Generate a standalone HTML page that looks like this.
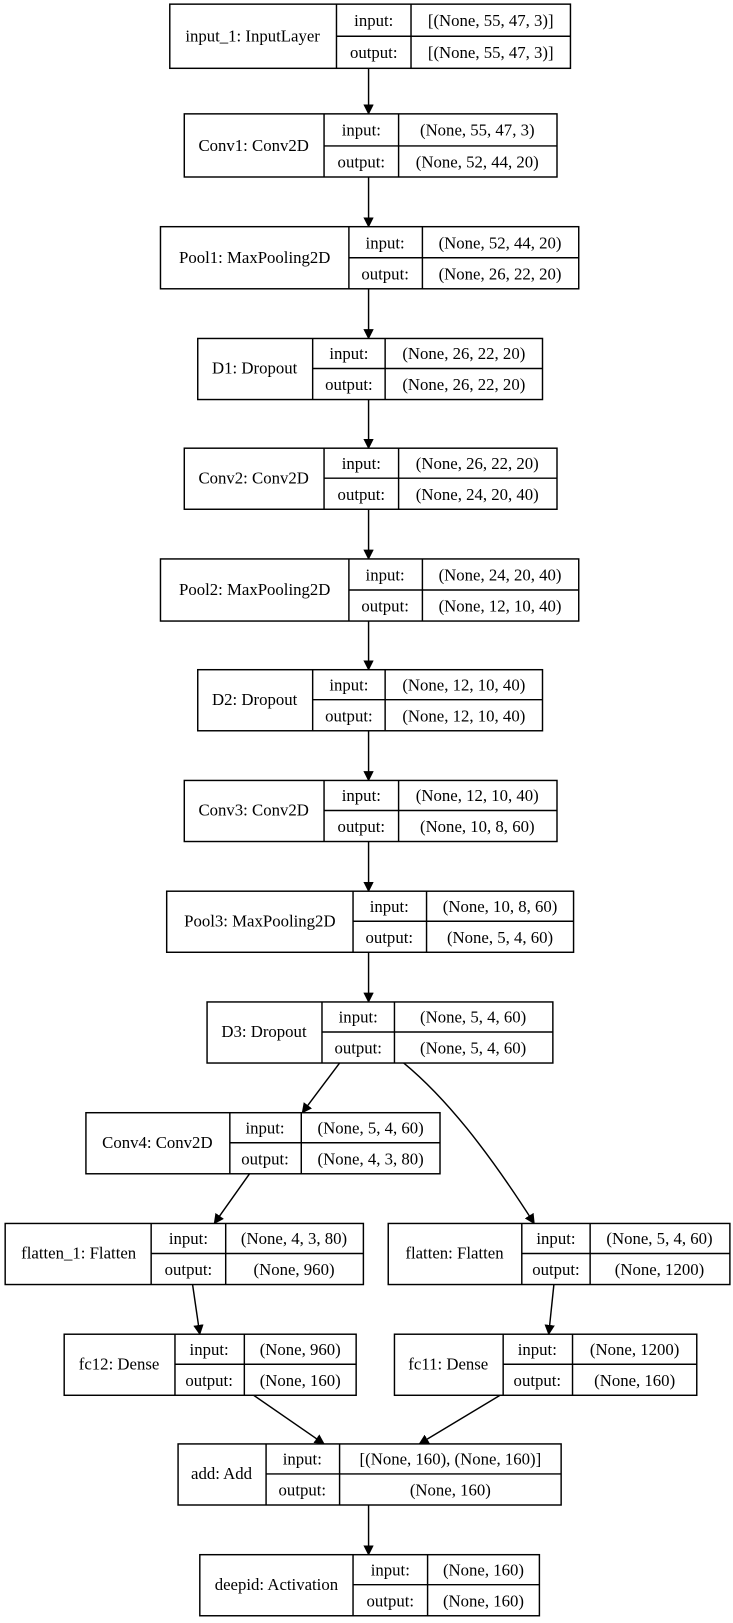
<!DOCTYPE html>
<html><head><style>
html,body{margin:0;padding:0;background:#fff;}
svg{display:block;}
text{font-family:"Liberation Serif",serif;font-size:16.2px;fill:#000;}
</style></head><body>
<svg width="733" height="1623" viewBox="0 0 708 1568" preserveAspectRatio="none" xmlns="http://www.w3.org/2000/svg">
<defs><marker id="a" markerWidth="10" markerHeight="10" refX="9" refY="5" orient="auto" markerUnits="userSpaceOnUse"><path d="M0,0 L10,5 L0,10 z" fill="#000"/></marker></defs>
<g fill="none" stroke="#000" stroke-width="1.4">
<line x1="356" y1="66" x2="356" y2="110" marker-end="url(#a)"/>
<line x1="356" y1="171" x2="356" y2="219" marker-end="url(#a)"/>
<line x1="356" y1="279" x2="356" y2="327" marker-end="url(#a)"/>
<line x1="356" y1="386" x2="356" y2="433" marker-end="url(#a)"/>
<line x1="356" y1="492" x2="356" y2="540" marker-end="url(#a)"/>
<line x1="356" y1="600" x2="356" y2="647" marker-end="url(#a)"/>
<line x1="356" y1="706" x2="356" y2="754" marker-end="url(#a)"/>
<line x1="356" y1="813" x2="356" y2="861" marker-end="url(#a)"/>
<line x1="356" y1="920" x2="356" y2="968" marker-end="url(#a)"/>
<line x1="328" y1="1027" x2="292" y2="1075" marker-end="url(#a)"/>
<path d="M390,1027 C430,1060 470,1110 516,1182" marker-end="url(#a)"/>
<line x1="241" y1="1134" x2="207" y2="1182" marker-end="url(#a)"/>
<line x1="186" y1="1241" x2="193" y2="1289" marker-end="url(#a)"/>
<line x1="535" y1="1241" x2="530" y2="1289" marker-end="url(#a)"/>
<line x1="245" y1="1348" x2="313" y2="1395" marker-end="url(#a)"/>
<line x1="483" y1="1348" x2="405" y2="1395" marker-end="url(#a)"/>
<line x1="356" y1="1454" x2="356" y2="1502" marker-end="url(#a)"/>
</g>
<g fill="#fff" stroke="#000" stroke-width="1.4">
<rect x="164" y="4" width="387" height="62"/><line x1="325" y1="4" x2="325" y2="66"/><line x1="397" y1="4" x2="397" y2="66"/><line x1="325" y1="35" x2="551" y2="35"/>
<rect x="178" y="110" width="360" height="61"/><line x1="313" y1="110" x2="313" y2="171"/><line x1="385" y1="110" x2="385" y2="171"/><line x1="313" y1="141" x2="538" y2="141"/>
<rect x="155" y="219" width="404" height="60"/><line x1="337" y1="219" x2="337" y2="279"/><line x1="408" y1="219" x2="408" y2="279"/><line x1="337" y1="249" x2="559" y2="249"/>
<rect x="191" y="327" width="333" height="59"/><line x1="302" y1="327" x2="302" y2="386"/><line x1="372" y1="327" x2="372" y2="386"/><line x1="302" y1="356" x2="524" y2="356"/>
<rect x="178" y="433" width="360" height="59"/><line x1="313" y1="433" x2="313" y2="492"/><line x1="385" y1="433" x2="385" y2="492"/><line x1="313" y1="462" x2="538" y2="462"/>
<rect x="155" y="540" width="404" height="60"/><line x1="337" y1="540" x2="337" y2="600"/><line x1="408" y1="540" x2="408" y2="600"/><line x1="337" y1="570" x2="559" y2="570"/>
<rect x="191" y="647" width="333" height="59"/><line x1="302" y1="647" x2="302" y2="706"/><line x1="372" y1="647" x2="372" y2="706"/><line x1="302" y1="676" x2="524" y2="676"/>
<rect x="178" y="754" width="360" height="59"/><line x1="313" y1="754" x2="313" y2="813"/><line x1="385" y1="754" x2="385" y2="813"/><line x1="313" y1="783" x2="538" y2="783"/>
<rect x="161" y="861" width="393" height="59"/><line x1="341" y1="861" x2="341" y2="920"/><line x1="412" y1="861" x2="412" y2="920"/><line x1="341" y1="890" x2="554" y2="890"/>
<rect x="200" y="968" width="334" height="59"/><line x1="311" y1="968" x2="311" y2="1027"/><line x1="381" y1="968" x2="381" y2="1027"/><line x1="311" y1="997" x2="534" y2="997"/>
<rect x="83" y="1075" width="342" height="59"/><line x1="222" y1="1075" x2="222" y2="1134"/><line x1="291" y1="1075" x2="291" y2="1134"/><line x1="222" y1="1104" x2="425" y2="1104"/>
<rect x="5" y="1182" width="346" height="59"/><line x1="146" y1="1182" x2="146" y2="1241"/><line x1="218" y1="1182" x2="218" y2="1241"/><line x1="146" y1="1211" x2="351" y2="1211"/>
<rect x="375" y="1182" width="330" height="59"/><line x1="504" y1="1182" x2="504" y2="1241"/><line x1="570" y1="1182" x2="570" y2="1241"/><line x1="504" y1="1211" x2="705" y2="1211"/>
<rect x="62" y="1289" width="282" height="59"/><line x1="169" y1="1289" x2="169" y2="1348"/><line x1="236" y1="1289" x2="236" y2="1348"/><line x1="169" y1="1318" x2="344" y2="1318"/>
<rect x="381" y="1289" width="292" height="59"/><line x1="486" y1="1289" x2="486" y2="1348"/><line x1="553" y1="1289" x2="553" y2="1348"/><line x1="486" y1="1318" x2="673" y2="1318"/>
<rect x="172" y="1395" width="370" height="59"/><line x1="257" y1="1395" x2="257" y2="1454"/><line x1="328" y1="1395" x2="328" y2="1454"/><line x1="257" y1="1424" x2="542" y2="1424"/>
<rect x="193" y="1502" width="328" height="59"/><line x1="341" y1="1502" x2="341" y2="1561"/><line x1="413" y1="1502" x2="413" y2="1561"/><line x1="341" y1="1531" x2="521" y2="1531"/>
</g>
<g text-anchor="middle">
<text x="244" y="40">input_1: InputLayer</text><text x="361" y="25">input:</text><text x="361" y="56">output:</text><text x="474" y="25">[(None, 55, 47, 3)]</text><text x="474" y="56">[(None, 55, 47, 3)]</text>
<text x="245" y="146">Conv1: Conv2D</text><text x="349" y="131">input:</text><text x="349" y="162">output:</text><text x="461" y="131">(None, 55, 47, 3)</text><text x="461" y="162">(None, 52, 44, 20)</text>
<text x="246" y="254">Pool1: MaxPooling2D</text><text x="372" y="240">input:</text><text x="372" y="270">output:</text><text x="483" y="240">(None, 52, 44, 20)</text><text x="483" y="270">(None, 26, 22, 20)</text>
<text x="246" y="361">D1: Dropout</text><text x="337" y="347">input:</text><text x="337" y="377">output:</text><text x="448" y="347">(None, 26, 22, 20)</text><text x="448" y="377">(None, 26, 22, 20)</text>
<text x="245" y="467">Conv2: Conv2D</text><text x="349" y="453">input:</text><text x="349" y="483">output:</text><text x="461" y="453">(None, 26, 22, 20)</text><text x="461" y="483">(None, 24, 20, 40)</text>
<text x="246" y="575">Pool2: MaxPooling2D</text><text x="372" y="561">input:</text><text x="372" y="591">output:</text><text x="483" y="561">(None, 24, 20, 40)</text><text x="483" y="591">(None, 12, 10, 40)</text>
<text x="246" y="681">D2: Dropout</text><text x="337" y="667">input:</text><text x="337" y="697">output:</text><text x="448" y="667">(None, 12, 10, 40)</text><text x="448" y="697">(None, 12, 10, 40)</text>
<text x="245" y="788">Conv3: Conv2D</text><text x="349" y="774">input:</text><text x="349" y="804">output:</text><text x="461" y="774">(None, 12, 10, 40)</text><text x="461" y="804">(None, 10, 8, 60)</text>
<text x="251" y="895">Pool3: MaxPooling2D</text><text x="376" y="881">input:</text><text x="376" y="911">output:</text><text x="483" y="881">(None, 10, 8, 60)</text><text x="483" y="911">(None, 5, 4, 60)</text>
<text x="255" y="1002">D3: Dropout</text><text x="346" y="988">input:</text><text x="346" y="1018">output:</text><text x="457" y="988">(None, 5, 4, 60)</text><text x="457" y="1018">(None, 5, 4, 60)</text>
<text x="152" y="1109">Conv4: Conv2D</text><text x="256" y="1095">input:</text><text x="256" y="1125">output:</text><text x="358" y="1095">(None, 5, 4, 60)</text><text x="358" y="1125">(None, 4, 3, 80)</text>
<text x="76" y="1216">flatten_1: Flatten</text><text x="182" y="1202">input:</text><text x="182" y="1232">output:</text><text x="284" y="1202">(None, 4, 3, 80)</text><text x="284" y="1232">(None, 960)</text>
<text x="439" y="1216">flatten: Flatten</text><text x="537" y="1202">input:</text><text x="537" y="1232">output:</text><text x="637" y="1202">(None, 5, 4, 60)</text><text x="637" y="1232">(None, 1200)</text>
<text x="115" y="1323">fc12: Dense</text><text x="202" y="1309">input:</text><text x="202" y="1339">output:</text><text x="290" y="1309">(None, 960)</text><text x="290" y="1339">(None, 160)</text>
<text x="433" y="1323">fc11: Dense</text><text x="519" y="1309">input:</text><text x="519" y="1339">output:</text><text x="613" y="1309">(None, 1200)</text><text x="613" y="1339">(None, 160)</text>
<text x="214" y="1429">add: Add</text><text x="292" y="1415">input:</text><text x="292" y="1445">output:</text><text x="435" y="1415">[(None, 160), (None, 160)]</text><text x="435" y="1445">(None, 160)</text>
<text x="267" y="1536">deepid: Activation</text><text x="377" y="1522">input:</text><text x="377" y="1552">output:</text><text x="467" y="1522">(None, 160)</text><text x="467" y="1552">(None, 160)</text>
</g>
</svg>
</body></html>
